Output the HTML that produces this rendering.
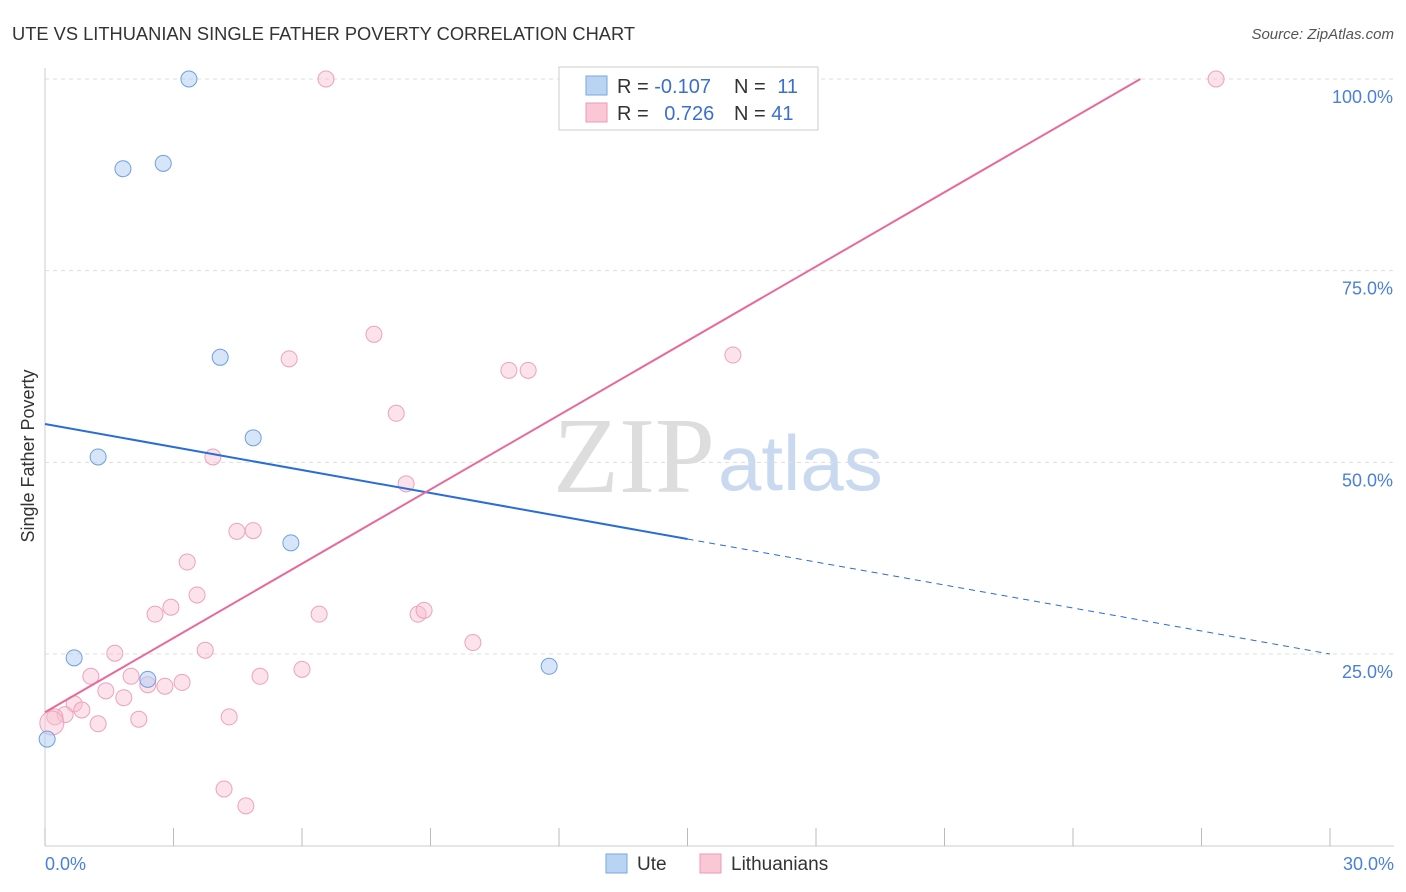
<!DOCTYPE html>
<html><head><meta charset="utf-8"><style>
body{margin:0;background:#fff;font-family:"Liberation Sans",sans-serif;}
svg{display:block}
</style></head><body>
<svg id="chart" width="1406" height="892">
<text x="12" y="40" font-size="18.3" fill="#333">UTE VS LITHUANIAN SINGLE FATHER POVERTY CORRELATION CHART</text>
<text x="1394" y="39" font-size="15" fill="#555" font-style="italic" text-anchor="end">Source: ZipAtlas.com</text>
<text transform="translate(34,456) rotate(-90)" font-size="18" fill="#333" text-anchor="middle">Single Father Poverty</text>
<text x="553" y="492" font-size="108" font-family="Liberation Serif,serif" fill="#ddd">ZIP</text>
<text x="718" y="490" font-size="78" fill="#c8d9f0">atlas</text>
<g id="grid"></g><g id="marks"></g>
<g>
<rect x="559" y="67" width="259" height="63" fill="#fff" stroke="#ccc"/>
<rect x="586" y="76" width="21" height="19" fill="#b9d3f3" stroke="#7aa7e0"/>
<rect x="586" y="103" width="21" height="19" fill="#f9c7d5" stroke="#ee9ab3"/>
<text x="617" y="93" font-size="20" fill="#333">R = <tspan fill="#3a6fd0">-0.107</tspan></text>
<text x="734" y="93" font-size="20" fill="#333">N = <tspan fill="#3a6fd0" dx="6">11</tspan></text>
<text x="617" y="120" font-size="20" fill="#333">R = <tspan fill="#3a6fd0" dx="10">0.726</tspan></text>
<text x="734" y="120" font-size="20" fill="#333">N = <tspan fill="#3a6fd0">41</tspan></text>
</g>
<g>
<rect x="606" y="854" width="21" height="19" fill="#b9d3f3" stroke="#7aa7e0"/>
<text x="637" y="870" font-size="19" fill="#333">Ute</text>
<rect x="700" y="854" width="21" height="19" fill="#f9c7d5" stroke="#ee9ab3"/>
<text x="731" y="870" font-size="19" fill="#333">Lithuanians</text>
</g>
</svg>
<script>
const yTicks=[25,50,75,100];
const xTicks=[0,3,6,9,12,15,18,21,24,27,30];
const uteX=[3.36,1.82,2.76,4.09,1.24,4.86,5.74,0.68,2.40,11.77,0.05];
const uteY=[100,88.3,89.0,63.7,50.7,53.2,39.5,24.5,21.7,23.4,13.9];
const lithX=[6.56,27.34,7.68,5.70,16.06,10.83,11.28,8.20,3.92,8.43,4.48,4.86,3.32,3.55,2.57,2.94,6.40,8.71,8.85,9.99,1.63,3.74,6.00,1.07,2.01,5.02,2.40,3.20,2.80,1.42,1.84,0.68,0.86,0.47,0.23,2.19,1.24,4.30,4.18,4.69,0.16];
const lithY=[100,100,66.7,63.5,64.0,62.0,62.0,56.4,50.7,47.2,41.0,41.1,37.0,32.7,30.2,31.1,30.2,30.2,30.7,26.5,25.1,25.5,23.0,22.1,22.1,22.1,21.0,21.3,20.8,20.2,19.3,18.5,17.7,17.1,16.8,16.5,15.9,16.8,7.4,5.2,16.0];
const uteTrend=[55.0,25.0]; // y at x=0, x=30
const lithTrend=[17.4,3.23]; // intercept, slope
const sx=v=>45+v*1285/30, sy=v=>845.7-v*7.667;
const NS="http://www.w3.org/2000/svg";
const grid=document.getElementById('grid'), marks=document.getElementById('marks');
function mk(p,tag,a){const e=document.createElementNS(NS,tag);for(const k in a)e.setAttribute(k,a[k]);p.appendChild(e);return e;}
let ax=mk(grid,'line',{x1:45,x2:45,y1:68,y2:846,stroke:'#ccc'});


let bx=mk(grid,'line',{x1:45,x2:1394,y1:846,y2:846,stroke:'#ccc'});


yTicks.forEach(t=>{
 const l=mk(grid,'line',{x1:45,x2:1394,y1:sy(t),y2:sy(t),stroke:'#ddd','stroke-dasharray':'4,4'});
 
 
 const tx=mk(grid,'text',{x:1393,y:sy(t)+24,'font-size':18,fill:'#4a80d8','text-anchor':'end'});
 tx.textContent=t.toFixed(1)+'%';
 
 
});
xTicks.forEach(t=>{
 const l=mk(grid,'line',{x1:sx(t),x2:sx(t),y1:828,y2:846,stroke:'#bbb'});
 
 
});
[[0,45,'start'],[30,1394,'end']].forEach(([v,x,a])=>{
 const tx=mk(grid,'text',{x:x,y:870,'font-size':18,fill:'#4a80d8','text-anchor':a});
 tx.textContent=v.toFixed(1)+'%';
 
 
});
lithX.forEach((x,i)=>{
 const c=mk(marks,'circle',{cx:sx(x),cy:sy(lithY[i]),r:i==40?12:8,fill:'rgba(249,190,208,0.45)',stroke:'#eea2ba','stroke-width':1});
 
 
});
uteX.forEach((x,i)=>{
 const c=mk(marks,'circle',{cx:sx(x),cy:sy(uteY[i]),r:8,fill:'rgba(180,208,243,0.55)',stroke:'#6f9fe0','stroke-width':1});
 
 
});
const uy=x=>uteTrend[0]+(uteTrend[1]-uteTrend[0])*x/30;
let u1=mk(marks,'line',{x1:sx(0),y1:sy(uy(0)),x2:sx(15),y2:sy(uy(15)),stroke:'#2a6dd6','stroke-width':2});


let u2=mk(marks,'line',{x1:sx(15),y1:sy(uy(15)),x2:sx(30),y2:sy(uy(30)),stroke:'#2a6dd6','stroke-width':1,'stroke-dasharray':'6,5'});


const xEnd=(100-lithTrend[0])/lithTrend[1];
let p=mk(marks,'line',{x1:sx(0),y1:sy(lithTrend[0]),x2:sx(xEnd),y2:sy(100),stroke:'#e8699a','stroke-width':2});


</script>
</body></html>
